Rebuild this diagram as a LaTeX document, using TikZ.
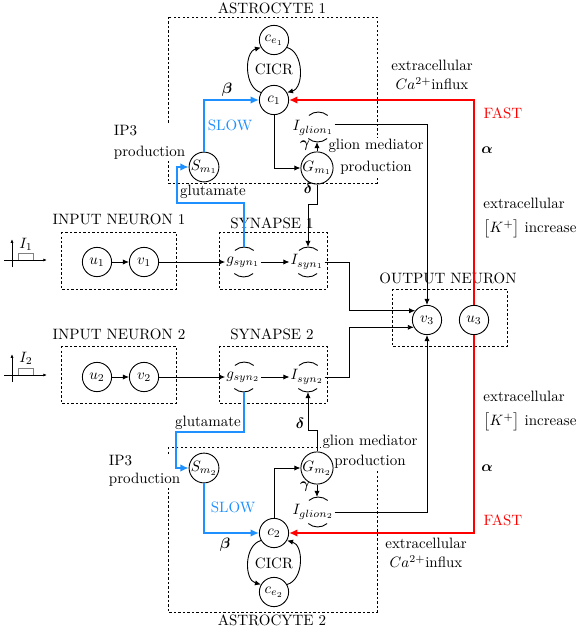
\documentclass[tikz,border=0pt]{standalone}
\usepackage{amsmath}
\usetikzlibrary{arrows.meta}
\definecolor{slowblue}{RGB}{30,144,255}
\definecolor{fastred}{RGB}{255,0,0}
\newcommand\halfarcs[1]{%
  \draw (#1.50) arc[start angle=50,end angle=130,radius=9.75pt];
  \draw (#1.230) arc[start angle=230,end angle=310,radius=9.75pt];}
\begin{document}
\begin{tikzpicture}[x=0.667pt,y=0.667pt,
  >={Latex[length=4pt,width=3.5pt]},
  line width=0.6pt,
  cell/.style={circle,draw,minimum size=19.5pt,inner sep=0pt},
  half/.style={circle,minimum size=19.5pt,inner sep=0pt},
  lbl/.style={inner sep=0.5pt},
  box/.style={draw,dash pattern=on 1.5pt off 1.5pt,line width=0.5pt},
  title/.style={inner sep=1pt},
  cover/.style={fill=white,inner sep=1pt},
  slow/.style={draw=slowblue,line width=1.1pt,-{Latex[length=5.5pt,width=5pt]}},
  fast/.style={draw=fastred,line width=1.1pt,-{Latex[length=5.5pt,width=5pt]}},
  conn/.style={draw,->},
  axis/.style={draw,line width=0.5pt,-{Latex[length=2.5pt,width=2pt]}},
  slowtxt/.style={text=slowblue},
  fasttxt/.style={text=fastred},
  westtxt/.style={anchor=west,inner sep=0pt},
]
\useasboundingbox (0,0) rectangle (582,-629);
% boxes
\draw[box] (168,-17) rectangle (377,-183);
\draw[box] (61,-232) rectangle (176,-289);
\draw[box] (219,-232) rectangle (327,-289);
\draw[box] (61,-346) rectangle (176,-403);
\draw[box] (219,-346) rectangle (327,-403);
\draw[box] (392,-289) rectangle (507,-346);
\draw[box] (168,-447) rectangle (377,-612);
% titles
\node[title] (ta1) at (272,-8) {ASTROCYTE 1};
\node[title] (tin1) at (119,-219) {INPUT NEURON 1};
\node[title] (ts1) at (272,-223) {SYNAPSE 1};
\node[title] (tin2) at (119,-334) {INPUT NEURON 2};
\node[title] (ts2) at (272,-334) {SYNAPSE 2};
\node[title] (tout) at (448,-278) {OUTPUT NEURON};
\node[title] (ta2) at (272,-620) {ASTROCYTE 2};
% covering labels
\node[cover,align=left,anchor=west] (ip1) at (112,-142) {IP3\\[2pt]production};
\node[cover,align=center] (gm1) at (376,-157) {glion mediator\\[2.7pt]production};
\node[cover,align=left,anchor=west] (ip2) at (107,-471) {IP3\\production};
\node[cover,align=center] (gm2) at (370,-452) {glion mediator\\[1.3pt]production};
% other labels
\node[slowtxt] (slow1) at (230,-125) {SLOW};
\node (b1) at (227,-90) {$\boldsymbol{\beta}$};
\node (gl1) at (305,-146) {$\boldsymbol{\gamma}$};
\node (dl1) at (308,-188) {$\boldsymbol{\delta}$};
\node (glu1) at (213,-192) {glutamate};
\node[slowtxt] (slow2) at (233,-507) {SLOW};
\node (b2) at (225,-545) {$\boldsymbol{\beta}$};
\node (gl2) at (305,-487) {$\boldsymbol{\gamma}$};
\node (dl2) at (300,-423) {$\boldsymbol{\delta}$};
\node (glu2) at (208,-423) {glutamate};
\node[align=center] (ca1) at (432,-75) {extracellular\\[1pt]$Ca^{2+}$influx};
\node[fasttxt] (fast1) at (503,-113) {FAST};
\node (al1) at (487,-150) {$\boldsymbol{\alpha}$};
\node[westtxt] (k1a) at (483,-203) {extracellular};
\node[westtxt] (k1b) at (483,-229) {$\bigl[K^{+}\bigr]$ increase};
\node[westtxt] (k2a) at (483,-396) {extracellular};
\node[westtxt] (k2b) at (483,-422) {$\bigl[K^{+}\bigr]$ increase};
\node (al2) at (487,-468) {$\boldsymbol{\alpha}$};
\node[fasttxt] (fast2) at (503,-520) {FAST};
\node[align=center] (ca2) at (426,-553) {extracellular\\[1pt]$Ca^{2+}$influx};
% astrocyte 1
\node[cell] (ce1) at (274,-40) {$c_{e_1}$};
\node (cicr1) at (274,-69) {CICR};
\node[cell] (c1) at (274,-100) {$c_1$};
\node[half] (Ig1) at (318,-127) {};
\node[lbl] (Ig1t) at (313,-128) {$I_{glion_1}$};
\node[cell] (G1) at (317,-168) {$G_{m_1}$};
\node[cell] (S1) at (204,-167) {$S_{m_1}$};
% row 1
\node[cell] (u1) at (97,-262) {$u_1$};
\node[cell] (v1) at (144,-262) {$v_1$};
\node[half] (gs1) at (244,-262) {};
\node[lbl] (gs1t) at (243,-262) {$g_{syn_1}$};
\node[half] (Is1) at (308,-262) {};
\node[lbl] (Is1t) at (307,-262) {$I_{syn_1}$};
% row 2
\node[cell] (u2) at (97,-377) {$u_2$};
\node[cell] (v2) at (144,-377) {$v_2$};
\node[half] (gs2) at (244,-377) {};
\node[lbl] (gs2t) at (243,-377) {$g_{syn_2}$};
\node[half] (Is2) at (308,-377) {};
\node[lbl] (Is2t) at (307,-377) {$I_{syn_2}$};
% output
\node[cell] (v3) at (427,-320) {$v_3$};
\node[cell] (u3) at (474,-320) {$u_3$};
% astrocyte 2
\node[cell] (S2) at (204,-468) {$S_{m_2}$};
\node[cell] (G2) at (317,-468) {$G_{m_2}$};
\node[half] (Ig2) at (318,-512) {};
\node[lbl] (Ig2t) at (313,-512) {$I_{glion_2}$};
\node[cell] (c2) at (274,-533) {$c_2$};
\node (cicr2) at (274,-563) {CICR};
\node[cell] (ce2) at (274,-592) {$c_{e_2}$};
% arcs
\halfarcs{Ig1}\halfarcs{gs1}\halfarcs{Is1}\halfarcs{gs2}\halfarcs{Is2}\halfarcs{Ig2}
% input stimuli icons
\draw[axis] (4,-260) -- (47,-260);
\draw[axis] (12,-267) -- (12,-239);
\draw[gray,line width=0.6pt] (18,-260) -- (18,-253) -- (33,-253) -- (33,-260);
\node (I1) at (26,-244) {$I_1$};
\draw[axis] (4,-375) -- (47,-375);
\draw[axis] (12,-382) -- (12,-354);
\draw[gray,line width=0.6pt] (18,-375) -- (18,-368) -- (33,-368) -- (33,-375);
\node (I2) at (26,-358) {$I_2$};
% connectors
\draw[conn] (u1) -- (v1);
\draw[conn] (v1) -- (gs1t.west);
\draw[conn] (gs1t.east) -- (Is1t.west);
\draw[conn] (Is1t.east) -- ++(25,0) |- (v3.142);
\draw[conn] (u2) -- (v2);
\draw[conn] (v2) -- (gs2t.west);
\draw[conn] (gs2t.east) -- (Is2t.west);
\draw[conn] (Is2t.east) -- ++(25,0) |- (v3.209);
\draw[conn] ([yshift=2.7pt]Ig1t.east) -| (v3.north);
\draw[conn] (Ig2t.east) -| (v3.south);
\draw[fast] (u3.north) |- (c1.east);
\draw[fast] (u3.south) |- (c2.east);
\draw[slow] (S1.north) |- (c1.west);
\draw[slow] (gs1.north) |- (177,-203) |- (S1.west);
\draw[slow] (gs2.south) |- (176,-432) |- (S2.west);
\draw[slow] (S2.south) |- (c2.west);
\draw[conn] (c1.south) |- (G1.west);
\draw[conn] (G1.north) -- (G1.north |- Ig1.south);
\draw[conn] (G1.south) -- ++(0,-20) -| (Is1.north);
\draw[conn] (c2.north) |- (G2.west);
\draw[conn] (G2.south) -- (G2.south |- Ig2.north);
\draw[conn] (G2.north) -- ++(0,21) -| (Is2.south);
% CICR loops
\draw[conn] (c1.150) .. controls (244,-88) and (244,-52) .. (ce1.210);
\draw[conn] (ce1.330) .. controls (304,-52) and (304,-88) .. (c1.30);
\draw[conn] (c2.210) .. controls (244,-545) and (244,-580) .. (ce2.150);
\draw[conn] (ce2.30) .. controls (304,-580) and (304,-545) .. (c2.330);
\end{tikzpicture}
\end{document}
